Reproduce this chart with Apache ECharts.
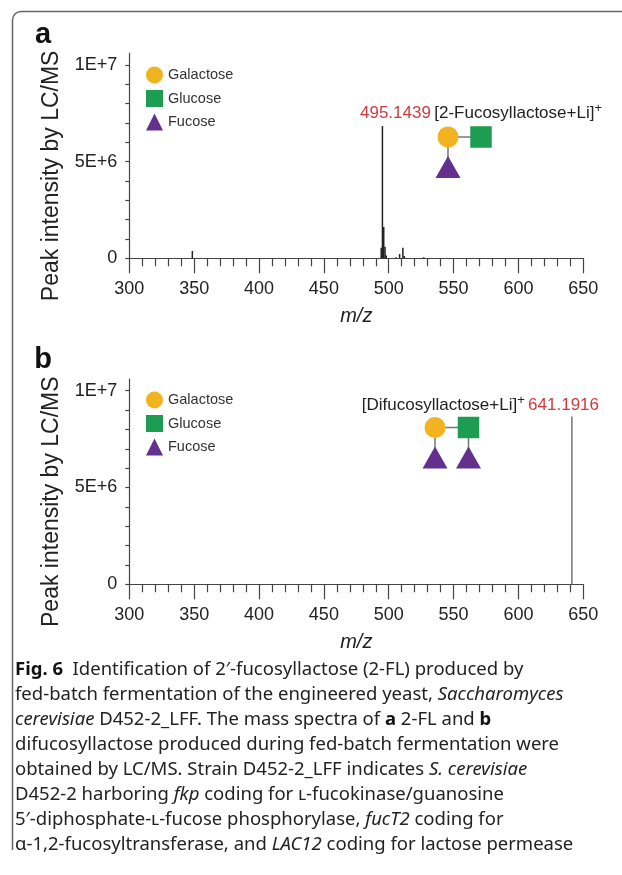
<!DOCTYPE html>
<html>
<head>
<meta charset="utf-8">
<title>Fig. 6 LC/MS spectra</title>
<script src="https://cdn.jsdelivr.net/npm/echarts@6/dist/echarts.min.js"></script>
<style>
html, body { margin: 0; padding: 0; background: #fff; }
#main { width: 622px; height: 875px; }
</style>
</head>
<body>
<div id="main"></div>
<script>
// panel a: 2-FL spectrum, m/z and peak intensity
var peaks_a_mz = [348.6, 494.2, 495.1439, 496.15, 497.15, 498.1, 505.5, 508.4, 510.9, 512.0, 527.0];
var peaks_a_int = [0.38e6, 0.55e6, 6.84e6, 1.62e6, 0.6e6, 0.15e6, 0.05e6, 0.22e6, 0.55e6, 0.12e6, 0.05e6];
// panel b: difucosyllactose
var peaks_b_mz = [641.1916];
var peaks_b_int = [8.67e6];

var x_min = 300, x_max = 650, x_step = 50;
var y_max = 1.06e7;
var y_tick_values = [0, 1e6, 2e6, 3e6, 4e6, 5e6, 6e6, 7e6, 8e6, 9e6, 1e7];
var y_label_values = [0, 5e6, 1e7];
var y_label_text = ['0', '5E+6', '1E+7'];

var sugar_names = ['Galactose', 'Glucose', 'Fucose'];
var sugar_icons = ['circle', 'rect', 'triangle'];
var sugar_colors = ['#f2b320', '#1d9d52', '#64308e'];

var label_a = ['495.1439', '[2-Fucosyllactose+Li]'];
var label_b = ['[Difucosyllactose+Li]', '641.1916'];

var caption_lines = [
	'{b|Fig. 6}  Identification of 2\u2032-fucosyllactose (2-FL) produced by',
	'fed-batch fermentation of the engineered yeast, {i|Saccharomyces}',
	'{i|cerevisiae} D452-2_LFF. The mass spectra of {b|a} 2-FL and {b|b}',
	'difucosyllactose produced during fed-batch fermentation were',
	'obtained by LC/MS. Strain D452-2_LFF indicates {i|S. cerevisiae}',
	'D452-2 harboring {i|fkp} coding for \u029f-fucokinase/guanosine',
	'5\u2032-diphosphate-\u029f-fucose phosphorylase, {i|fucT2} coding for',
	'\u03b1-1,2-fucosyltransferase, and {i|LAC12} coding for lactose permease'
];

var font = 'Liberation Sans, Arial, Helvetica, sans-serif';
var cap_font = 'Noto Sans, Open Sans, sans-serif';
var cap_size = 18.5;
var axis_color = '#444';
var red = '#d23a3a';

function make_pairs(mz, inten){
	var out = [];
	for(var i = 0; i < mz.length; i++){
		out.push([mz[i], inten[i]]);
	}
	return out;
}

function x_axis(gi){
	return {
		type: 'value', gridIndex: gi, min: x_min, max: x_max, interval: x_step,
		name: 'm/z', nameLocation: 'middle', nameGap: 48,
		nameTextStyle: {fontFamily: font, fontSize: 20, fontStyle: 'italic', color: '#222'},
		axisLine: {lineStyle: {color: axis_color, width: 1.2}},
		axisTick: {length: 15, lineStyle: {color: axis_color, width: 1.2}},
		minorTick: {show: true, splitNumber: 5, length: 8, lineStyle: {color: axis_color, width: 1.2}},
		axisLabel: {fontFamily: font, fontSize: 18, color: '#222', margin: 22},
		splitLine: {show: false}
	};
}

function y_axis(gi){
	return {
		type: 'value', gridIndex: gi, min: 0, max: y_max,
		name: 'Peak intensity by LC/MS', nameLocation: 'middle', nameGap: 66, nameRotate: 90,
		nameTextStyle: {fontFamily: font, fontSize: 23, color: '#222', padding: [0, 40, 0, 0]},
		axisLine: {show: true, lineStyle: {color: axis_color, width: 1.2}},
		axisTick: {show: true, length: 4, customValues: y_tick_values, lineStyle: {color: axis_color, width: 1.2}},
		axisLabel: {
			fontFamily: font, fontSize: 18, color: '#222', margin: 12,
			customValues: y_label_values,
			formatter: function(v){
				var k = y_label_values.indexOf(v);
				return k < 0 ? '' : y_label_text[k];
			}
		},
		splitLine: {show: false}
	};
}

function sugar_legend(top){
	var items = [];
	for(var i = 0; i < sugar_names.length; i++){
		items.push({name: sugar_names[i], icon: sugar_icons[i]});
	}
	return {
		data: items, orient: 'vertical', left: 146, top: top, padding: 0,
		itemWidth: 17, itemHeight: 17, itemGap: 6.5, selectedMode: false,
		textStyle: {fontFamily: font, fontSize: 14.5, color: '#333'}
	};
}

// glycan pieces
function sugar_circle(cx, cy){
	return {type: 'circle', shape: {cx: cx, cy: cy, r: 10.5}, style: {fill: sugar_colors[0]}, z: 10};
}
function sugar_square(cx, cy){
	return {type: 'rect', shape: {x: cx - 10.75, y: cy - 10.75, width: 21.5, height: 21.5}, style: {fill: sugar_colors[1]}, z: 10};
}
function sugar_triangle(cx, top){
	return {type: 'polygon', shape: {points: [[cx, top], [cx - 12.5, top + 22], [cx + 12.5, top + 22]]}, style: {fill: sugar_colors[2]}, z: 10};
}
function link(x1, y1, x2, y2){
	return {type: 'line', shape: {x1: x1, y1: y1, x2: x2, y2: y2}, style: {stroke: '#777', lineWidth: 1.5}, z: 9};
}

function annot_rich(){
	return {
		r: {fontFamily: font, fontSize: 17, fill: red, lineHeight: 22},
		k: {fontFamily: font, fontSize: 17, fill: '#222', lineHeight: 22},
		s: {fontFamily: font, fontSize: 13, fill: '#222', verticalAlign: 'top', lineHeight: 13}
	};
}

function build_graphics(){
	var g = [];
	// border of figure box (left side, rounded corner, top side)
	g.push({type: 'line', shape: {x1: 12.5, y1: 850, x2: 12.5, y2: 20}, style: {stroke: '#666', lineWidth: 1.5}});
	g.push({type: 'arc', shape: {cx: 21, cy: 20, r: 8.5, startAngle: Math.PI, endAngle: Math.PI * 1.5, clockwise: true},
		style: {stroke: '#666', lineWidth: 1.5, fill: null}});
	g.push({type: 'line', shape: {x1: 21, y1: 11.5, x2: 622, y2: 11.5}, style: {stroke: '#666', lineWidth: 1.5}});
	// panel letters
	g.push({type: 'text', x: 43, y: 35, style: {text: 'a', font: 'bold 29px ' + font, fill: '#111', align: 'center', verticalAlign: 'middle'}});
	g.push({type: 'text', x: 43, y: 360, style: {text: 'b', font: 'bold 29px ' + font, fill: '#111', align: 'center', verticalAlign: 'middle'}});

	// panel a annotation
	g.push({type: 'text', x: 360, y: 113, style: {
		text: '{r|' + label_a[0] + '} {k|' + label_a[1] + '}{s|+}',
		align: 'left', verticalAlign: 'middle', rich: annot_rich()
	}});
	g.push(link(448, 137, 481, 137), link(448, 137, 448, 160));
	g.push(sugar_circle(448, 137), sugar_square(481, 137), sugar_triangle(448, 156));

	// panel b annotation
	g.push({type: 'text', x: 599, y: 405, style: {
		text: '{k|' + label_b[0] + '}{s|+} {r|' + label_b[1] + '}',
		align: 'right', verticalAlign: 'middle', rich: annot_rich()
	}});
	g.push(link(435, 427.5, 468.5, 427.5), link(435, 427.5, 435, 450), link(468.5, 427.5, 468.5, 450));
	g.push(sugar_circle(435, 427.5), sugar_square(468.5, 427.5), sugar_triangle(435, 446.5), sugar_triangle(468.5, 446.5));

	// caption
	for(var i = 0; i < caption_lines.length; i++){
		g.push({type: 'text', x: 15, y: 670 + i * 25, style: {
			text: caption_lines[i],
			fontFamily: cap_font, fontSize: cap_size, fill: '#222',
			align: 'left', verticalAlign: 'middle',
			rich: {
				b: {fontFamily: cap_font, fontSize: cap_size, fontWeight: 'bold', fill: '#111'},
				i: {fontFamily: cap_font, fontSize: cap_size, fontStyle: 'italic', fill: '#222'}
			}
		}});
	}
	return g;
}

var chart = echarts.init(document.getElementById('main'));
var series = [
	{type: 'bar', name: 'a', xAxisIndex: 0, yAxisIndex: 0, data: make_pairs(peaks_a_mz, peaks_a_int),
		barWidth: 1.5, itemStyle: {color: '#222'}, silent: true},
	{type: 'bar', name: 'b', xAxisIndex: 1, yAxisIndex: 1, data: make_pairs(peaks_b_mz, peaks_b_int),
		barWidth: 1.5, itemStyle: {color: '#777'}, silent: true}
];
for(var i = 0; i < sugar_names.length; i++){
	series.push({type: 'scatter', name: sugar_names[i], xAxisIndex: 0, yAxisIndex: 0, data: [],
		itemStyle: {color: sugar_colors[i], opacity: 1}});
}

var option = {
	animation: false,
	backgroundColor: '#fff',
	grid: [
		{left: 129.3, right: 38.7, top: 53.4, height: 204.9},
		{left: 129.3, right: 38.7, top: 379.1, height: 205.2}
	],
	xAxis: [x_axis(0), x_axis(1)],
	yAxis: [y_axis(0), y_axis(1)],
	legend: [sugar_legend(66.5), sugar_legend(391.5)],
	series: series,
	graphic: build_graphics()
};
chart.setOption(option);
window.addEventListener('resize', function(){
	chart.resize();
});
</script>
</body>
</html>
